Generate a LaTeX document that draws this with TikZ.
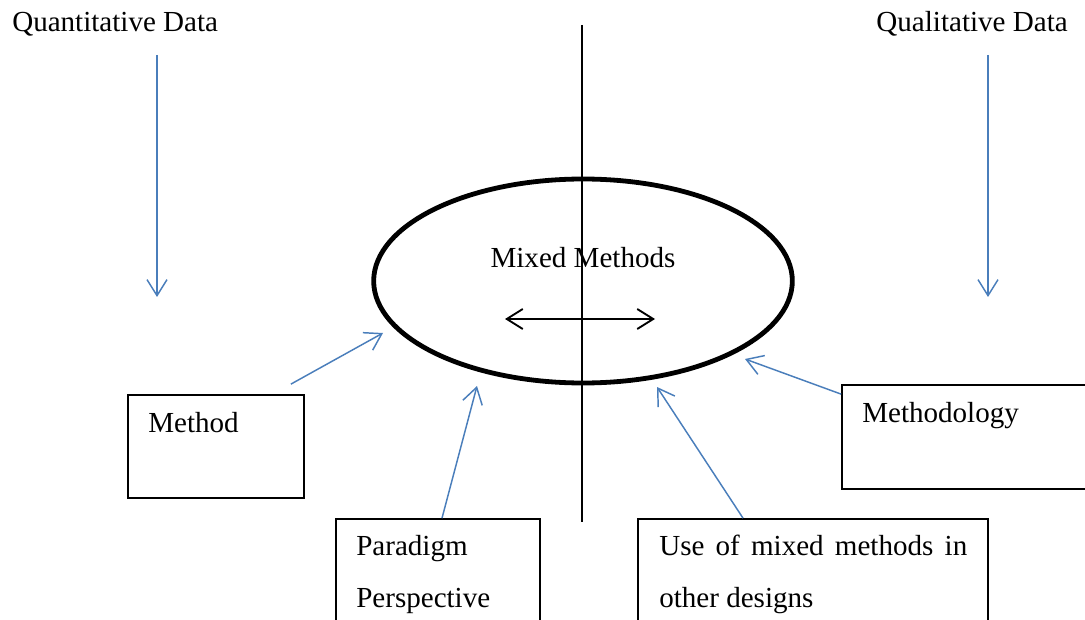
\documentclass[tikz,border=0pt]{standalone}
\usepackage{fontspec}
\setmainfont{Liberation Serif}
\usetikzlibrary{arrows.meta,shapes.geometric}
\definecolor{wordblue}{HTML}{4A7EBB}

\begin{document}
\begin{tikzpicture}[x=0.75pt,y=-0.75pt,
    every node/.style={inner sep=0pt,font=\fontsize{21.8}{26}\selectfont}]

      \useasboundingbox (0,0) rectangle (1085,620);
      \clip (0,0) rectangle (1085,620);

      % titles
      \node[anchor=base west] (quant) at (12,32)   {Quantitative Data};
      \node[anchor=base east] (qual)  at (1068,32) {Qualitative Data};

      % centre
      \node[draw,ellipse,line width=3.6pt,minimum width=314pt,minimum height=153pt] (mixed) at (583,281) {};
      \coordinate (axistop) at (582,25);
      \coordinate (axisbot) at (582,522);
      \draw[line width=1.4pt] (axistop) -- (axisbot);
      \node[anchor=base] (mixedtext) at (583,268) {Mixed Methods};
      \coordinate (leftend)  at (505,319);
      \coordinate (rightend) at (655,319);
      \draw[line width=1.4pt,{Straight Barb[length=12pt,width=15pt]}-{Straight Barb[length=12pt,width=15pt]}] (leftend) -- (rightend);

      \begin{scope}[every node/.style={draw,rectangle,line width=1.3pt}]
        \node[minimum width=132pt,  minimum height=77.25pt] (methodbox)      at (216,446.5) {};
        \node[minimum width=153pt,  minimum height=90.75pt] (paradigmbox)    at (438,579.5) {};
        \node[minimum width=262.5pt,minimum height=90.75pt] (usebox)         at (813,579.5) {};
        \node[minimum width=193.5pt,minimum height=78pt]    (methodologybox) at (971,437)   {};
      \end{scope}

      \node[anchor=base west] (method)      at (148,432) {Method};
      \node[anchor=base west] (methodology) at (862,422) {Methodology};
      \node[anchor=base west] (paradigm)    at (356,555) {Paradigm};
      \node[anchor=base west] (perspective) at (356,607) {Perspective};
      \node[anchor=base west] (usefirst)    at (659,555) {\makebox[231pt][s]{Use of mixed methods in}};
      \node[anchor=base west] (usesecond)   at (659,607) {other designs};

      \coordinate (quanttop) at (157,55);
      \coordinate (quantbot) at (157,297);
      \coordinate (qualtop)  at (988,55);
      \coordinate (qualbot)  at (988,297);
      \coordinate (methodtip)      at (383,333);
      \coordinate (paradigmtip)    at (477,386);
      \coordinate (usetip)         at (657,387);
      \coordinate (methodologytip) at (745,359);

      \begin{scope}[every edge/.style={draw,wordblue,line width=1.1pt,-{Straight Barb[length=12pt,width=15pt]}}]
        \path (quanttop) edge (quantbot);
        \path (qualtop)  edge (qualbot);
        \path ([xshift=-10.5pt,yshift=7.5pt]methodbox.north east) edge (methodtip);
        \path ([xshift=3pt]paradigmbox.north)                    edge (paradigmtip);
        \path ([xshift=-52.5pt]usebox.north)                     edge (usetip);
        \path ([yshift=-7.5pt]methodologybox.north west)         edge (methodologytip);
      \end{scope}

    \end{tikzpicture}
\end{document}
